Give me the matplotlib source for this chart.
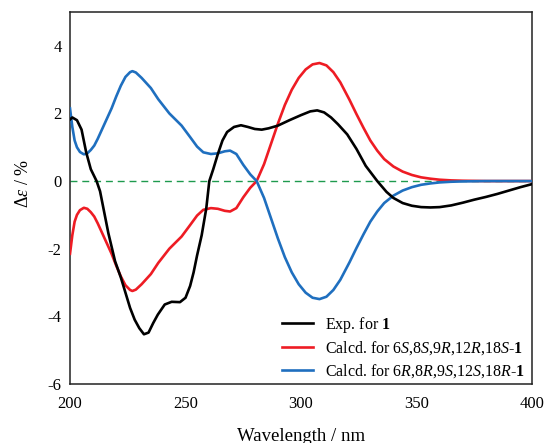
import matplotlib
matplotlib.use("Agg")
import matplotlib.pyplot as plt

plt.rcParams['font.family'] = ['Liberation Serif', 'DejaVu Serif']
plt.rcParams['mathtext.fontset'] = 'custom'
plt.rcParams['mathtext.rm'] = 'Liberation Serif'
plt.rcParams['mathtext.it'] = 'Liberation Serif:italic'
plt.rcParams['mathtext.bf'] = 'Liberation Serif:bold'
plt.rcParams['axes.unicode_minus'] = False

# 실험 CD 스펙트럼 (Exp. for 1)
wl_exp = [200, 201, 203, 205, 207, 209, 211.5, 213, 216.6, 219.5, 222, 224, 226, 228,
          230, 232, 234, 236, 238, 241, 244, 247.6, 250, 252, 253.5, 255, 257, 259, 260.3,
          262, 264, 266, 268, 271, 274, 277, 280, 283, 286, 290, 295, 300, 304, 307,
          310, 313, 316, 320, 324, 328, 333, 337, 340, 344, 348, 352, 356, 360, 365,
          370, 375, 380, 385, 390, 395, 400]
de_exp = [1.82, 1.88, 1.80, 1.52, 0.85, 0.35, 0.0, -0.3, -1.54, -2.37, -2.85, -3.3, -3.75, -4.1,
          -4.35, -4.53, -4.48, -4.2, -3.95, -3.65, -3.57, -3.58, -3.45, -3.1, -2.7, -2.2, -1.6, -0.8, 0.0,
          0.35, 0.8, 1.2, 1.45, 1.6, 1.65, 1.6, 1.54, 1.52, 1.56, 1.64, 1.8, 1.95, 2.06, 2.09,
          2.03, 1.88, 1.68, 1.38, 0.95, 0.45, 0.0, -0.32, -0.5, -0.65, -0.73, -0.77, -0.78, -0.77, -0.72,
          -0.64, -0.55, -0.47, -0.38, -0.28, -0.18, -0.09]

# 계산 ECD (6S,8S,9R,12R,18S-1)
wl_calc = [200, 201, 202, 203, 204.3, 206, 207.5, 209, 210.5, 212, 214, 216, 218, 220, 222, 224,
           226, 227, 228.5, 231, 235, 238.2, 243, 248.3, 252, 255, 257.7, 261, 264, 267,
           269.3, 272, 275, 278, 280.8, 284, 287, 290, 293, 296, 299, 302, 305, 308, 311,
           314, 317, 321, 324, 327, 330, 333, 336, 340, 344, 348, 352, 356, 360, 365, 370,
           380, 390, 400]
de_calc_S = [-2.15, -1.6, -1.2, -1.0, -0.86, -0.79, -0.82, -0.92, -1.05, -1.25, -1.55, -1.85, -2.15,
             -2.5, -2.82, -3.08, -3.22, -3.25, -3.21, -3.05, -2.75, -2.42, -2.0, -1.64, -1.3,
             -1.02, -0.85, -0.8, -0.82, -0.88, -0.9, -0.8, -0.48, -0.2, 0.0, 0.5, 1.1, 1.7, 2.25,
             2.7, 3.05, 3.3, 3.45, 3.49, 3.42, 3.22, 2.92, 2.4, 1.98, 1.58, 1.2, 0.9, 0.65, 0.43,
             0.28, 0.18, 0.11, 0.07, 0.04, 0.02, 0.01, 0.0, 0.0, 0.0]
# 거울상 이성질체 (6R,8R,9S,12S,18R-1)
de_calc_R = [-v for v in de_calc_S]

fig = plt.figure(figsize=(5.44, 4.43), dpi=100)
ax = fig.add_axes([0.1287, 0.1332, 0.8493, 0.8398])

ax.plot([200, 400], [0, 0], color='#1e9a4e', linestyle=(0, (5, 3.5)), linewidth=1.0, zorder=1)
ax.plot(wl_exp, de_exp, color='black', linewidth=1.9, label=r'Exp. for $\mathbf{1}$', zorder=4)
ax.plot(wl_calc, de_calc_S, color='#ee1c24', linewidth=1.9,
        label=r'Calcd. for 6$\mathit{S}$,8$\mathit{S}$,9$\mathit{R}$,12$\mathit{R}$,18$\mathit{S}$-$\mathbf{1}$', zorder=3)
ax.plot(wl_calc, de_calc_R, color='#1f6fbf', linewidth=1.9,
        label=r'Calcd. for 6$\mathit{R}$,8$\mathit{R}$,9$\mathit{S}$,12$\mathit{S}$,18$\mathit{R}$-$\mathbf{1}$', zorder=3)

ax.set_xlim(200, 400)
ax.set_ylim(-6, 5)
ax.set_xticks([200, 250, 300, 350, 400])
ax.set_yticks([-6, -4, -2, 0, 2, 4])
ax.tick_params(axis='both', length=0, labelsize=12)
ax.tick_params(axis='x', pad=9)
ax.tick_params(axis='y', pad=6)
for s in ax.spines.values():
    s.set_linewidth(1.1)
    s.set_color('#222222')

ax.set_xlabel('Wavelength / nm', fontsize=13.5, labelpad=11)
ax.set_ylabel(r'Δ$\mathit{ε}$ / %', fontsize=13)
ax.yaxis.set_label_coords(-0.083, 0.54)

ax.legend(loc='lower left', bbox_to_anchor=(0.459, 0.012), frameon=False, fontsize=11.5,
          handlelength=1.95, handletextpad=0.75, labelspacing=0.3, borderpad=0, borderaxespad=0)

fig.savefig('out.png', dpi=100)
